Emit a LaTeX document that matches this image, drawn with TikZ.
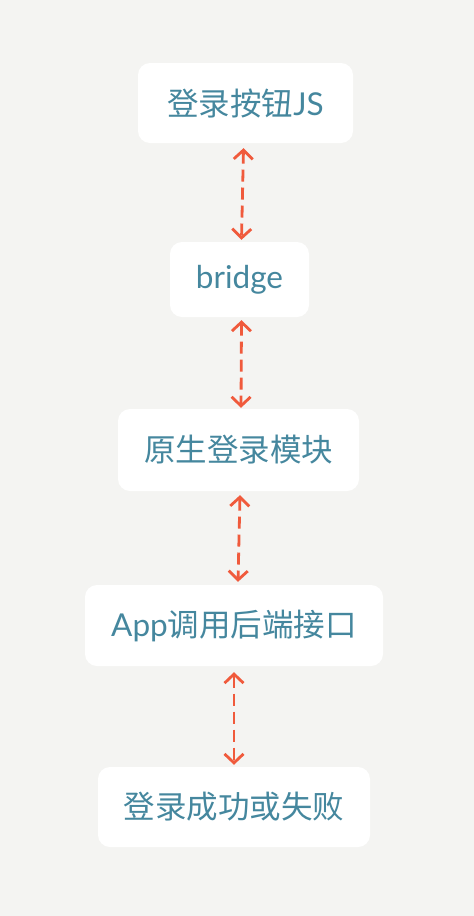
\documentclass[tikz,border=0pt]{standalone}
\usepackage{fontspec}
\setmainfont{Lato}
\newfontfamily\cjk{Noto Sans CJK SC}
\usetikzlibrary{arrows.meta}
\definecolor{bg}{HTML}{F4F4F2}
\definecolor{txt}{HTML}{45879E}
\definecolor{arr}{HTML}{F05A3C}
\tikzset{
  box/.style={fill=white, rounded corners=12pt, text=txt, inner sep=0pt, align=center,
    font=\fontsize{31.5}{36}\selectfont},
  link/.style={draw=arr, line width=2.8pt, dash pattern=on 12pt off 6pt,
    {Straight Barb[length=9pt,width=19pt,line width=2.8pt]}-{Straight Barb[length=9pt,width=19pt,line width=2.8pt]}}
}
\begin{document}
\begin{tikzpicture}[x=1pt,y=-1pt]
\fill[bg] (0,0) rectangle (474,916);
\useasboundingbox (0,0) rectangle (474,916);
\node[box, minimum width=215pt, minimum height=80pt] (b1) at (245.5,103) {{\cjk 登录按钮}JS};
\node[box, minimum width=139pt, minimum height=75pt] (b2) at (239.5,279.5) {bridge};
\node[box, minimum width=241pt, minimum height=82pt] (b3) at (238.5,450) {\cjk 原生登录模块};
\node[box, minimum width=298pt, minimum height=81pt] (b4) at (234,625.5) {App{\cjk 调用后端接口}};
\node[box, minimum width=272pt, minimum height=80pt] (b5) at (234,807) {\cjk 登录成功或失败};
\draw[link] ([xshift=-2pt,yshift=-5pt]b1.south) -- ([xshift=2pt,yshift=2pt]b2.north);
\draw[link] ([xshift=2pt,yshift=-3pt]b2.south) -- ([xshift=2.5pt,yshift=1pt]b3.north);
\draw[link] ([xshift=1.5pt,yshift=-4pt]b3.south) -- ([xshift=4pt,yshift=3pt]b4.north);
\draw[link] ([xshift=0pt,yshift=-6pt]b4.south) -- ([xshift=0pt,yshift=2pt]b5.north);
\end{tikzpicture}
\end{document}
